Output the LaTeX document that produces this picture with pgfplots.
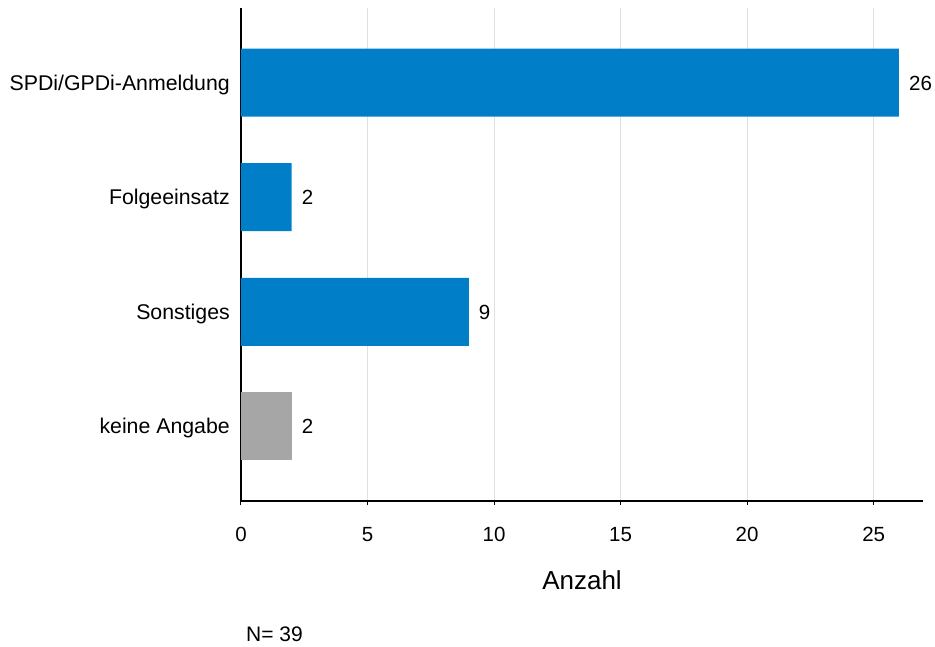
\documentclass[border=0pt]{standalone}
\usepackage{fontspec}
\setmainfont{Liberation Sans}
\usepackage{pgfplots}
\pgfplotsset{compat=1.18}
\definecolor{barblue}{HTML}{007FC8}
\definecolor{bargray}{HTML}{A6A6A6}
\definecolor{gridgray}{HTML}{E0E0E0}

\begin{document}
\begin{tikzpicture}
\begin{axis}[
  at={(0,0)},anchor=south west,
  scale only axis,width=682bp,height=493bp,
  xmin=0,xmax=26.95,ymin=-0.65,ymax=3.65,
  xtick={0,5,10,15,20,25},
  ytick={0,1,2,3},
  yticklabels={keine Angabe,Sonstiges,Folgeeinsatz,SPDi/GPDi-Anmeldung},
  axis lines*=left,axis line style={-,black,line width=1.1bp},
  xmajorgrids,grid style={gridgray,line width=0.8bp},
  tick align=outside,
  x tick style={black,line width=1bp},major tick length=4bp,
  y tick style={draw=none},
  /pgf/number format/assume math mode=true,
  tick label style={font=\fontsize{20.5bp}{24bp}\selectfont,inner sep=0pt},
  xticklabel style={anchor=base,yshift=-36bp},
  yticklabel style={font=\fontsize{21.3bp}{25bp}\selectfont,anchor=base east,xshift=-7bp,yshift=-7.5bp},
  xlabel={Anzahl},
  xlabel style={font=\fontsize{26bp}{31bp}\selectfont,inner sep=0pt,anchor=base,
    at={(axis description cs:0.5,0)},yshift=-88bp},
  xbar,bar width=68bp,bar shift=0pt,
  nodes near coords,
  every node near coord/.append style={font=\fontsize{20.5bp}{24bp}\selectfont,
    inner sep=0pt,anchor=base west,xshift=10bp,yshift=-7.5bp,black},
  clip=false,
]
\addplot[fill=barblue,draw=none] coordinates {(26,3) (2,2) (9,1)};
\addplot[fill=bargray,draw=none] coordinates {(2,0)};
\node[anchor=base west,inner sep=0pt,font=\fontsize{21bp}{25bp}\selectfont]
  at (rel axis cs:0,0) [xshift=5bp,yshift=-140.5bp] {N= 39};
\end{axis}
\pgfresetboundingbox
\path[use as bounding box] (-241bp,-146bp) rectangle (694bp,501bp);
\end{tikzpicture}
\end{document}
